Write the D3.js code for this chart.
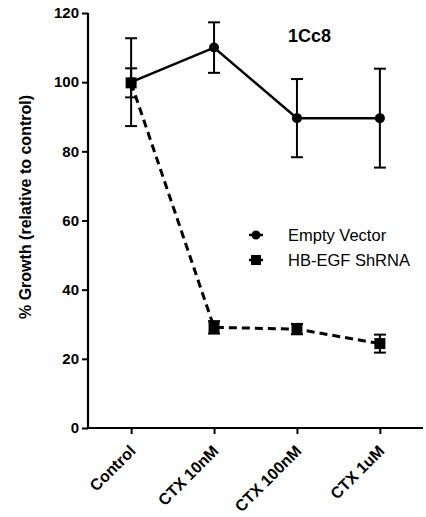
<!DOCTYPE html>
<html>
<head>
<meta charset="utf-8">
<script src="https://cdn.jsdelivr.net/npm/d3@7"></script>
<style>
    body { margin: 0; background: #fff; }
    svg { display: block; font-family: 'Liberation Sans', Arial, sans-serif; }
</style>
</head>
<body>
<svg id="chart" width="426" height="517"></svg>
<script>
const categories = ['Control', 'CTX 10nM', 'CTX 100nM', 'CTX 1uM'];
const emptyVector = [100, 110, 89.6, 89.6];
const emptyVectorErr = [12.7, 7.3, 11.3, 14.3];
const hbEgf = [99.8, 29.1, 28.6, 24.4];
const hbEgfErr = [4.2, 1.8, 1.5, 2.6];
const yTicks = [0, 20, 40, 60, 80, 100, 120];

const svg = d3.select('#chart');
const plot = { left: 88, right: 423, top: 13, bottom: 428 };

const x = d3.scalePoint().domain(categories).range([plot.left, plot.right]).padding(0.52);
const y = d3.scaleLinear().domain([0, 120]).range([plot.bottom, plot.top]);

// axes
const yAxis = d3.axisLeft(y).tickValues(yTicks).tickSize(6).tickPadding(3);
const gy = svg.append('g').attr('transform', `translate(${plot.left},0)`).call(yAxis);
gy.select('.domain').attr('stroke-width', 2.2).attr('d', `M0,${plot.bottom}V${plot.top}`);
gy.selectAll('.tick line').attr('stroke-width', 2);
gy.selectAll('.tick text').attr('font-size', 15).attr('font-weight', 'bold').attr('fill', '#000');

const xAxis = d3.axisBottom(x).tickSize(6);
const gx = svg.append('g').attr('transform', `translate(0,${plot.bottom})`).call(xAxis);
gx.select('.domain').attr('stroke-width', 2.2).attr('d', `M${plot.left},0H${plot.right}`);
gx.selectAll('.tick line').attr('stroke-width', 2);
gx.selectAll('.tick text')
    .attr('font-size', 16).attr('font-weight', 'bold').attr('fill', '#000')
    .attr('text-anchor', 'end')
    .attr('x', 0).attr('y', 0).attr('dy', '0.35em')
    .attr('transform', 'translate(1,20) rotate(-45)');

// y label
svg.append('text')
    .attr('transform', 'translate(31,207) rotate(-90)')
    .attr('text-anchor', 'middle')
    .attr('font-size', 16).attr('font-weight', 'bold')
    .text('% Growth (relative to control)');

// title
svg.append('text').attr('x', 288).attr('y', 42)
    .attr('font-size', 18).attr('font-weight', 'bold').text('1Cc8');

function errorBars(vals, errs) {
    const g = svg.append('g').attr('stroke', '#000').attr('stroke-width', 2);
    vals.forEach((v, i) => {
        const cx = x(categories[i]);
        g.append('line').attr('x1', cx).attr('x2', cx).attr('y1', y(v - errs[i])).attr('y2', y(v + errs[i]));
        [v - errs[i], v + errs[i]].forEach(e => {
            g.append('line').attr('x1', cx - 6).attr('x2', cx + 6).attr('y1', y(e)).attr('y2', y(e));
        });
    });
}

errorBars(emptyVector, emptyVectorErr);
errorBars(hbEgf, hbEgfErr);

const line = d3.line().x((d, i) => x(categories[i])).y(d => y(d));

svg.append('path').attr('d', line(hbEgf)).attr('fill', 'none')
    .attr('stroke', '#000').attr('stroke-width', 3).attr('stroke-dasharray', '8,5');
svg.append('path').attr('d', line(emptyVector)).attr('fill', 'none')
    .attr('stroke', '#000').attr('stroke-width', 2.5);

svg.selectAll('.ev').data(emptyVector).enter().append('circle')
    .attr('cx', (d, i) => x(categories[i])).attr('cy', d => y(d)).attr('r', 5).attr('fill', '#000');
svg.selectAll('.hb').data(hbEgf).enter().append('rect')
    .attr('x', (d, i) => x(categories[i]) - 5.5).attr('y', d => y(d) - 5.5)
    .attr('width', 11).attr('height', 11).attr('fill', '#000');

// legend
const leg = svg.append('g');
leg.append('line').attr('x1', 249).attr('x2', 263).attr('y1', 235).attr('y2', 235).attr('stroke', '#000').attr('stroke-width', 2.5);
leg.append('circle').attr('cx', 256).attr('cy', 235).attr('r', 4.5).attr('fill', '#000');
leg.append('text').attr('x', 288).attr('y', 241).attr('font-size', 16.5).text('Empty Vector');
leg.append('line').attr('x1', 249).attr('x2', 263).attr('y1', 260).attr('y2', 260).attr('stroke', '#000').attr('stroke-width', 2.5);
leg.append('rect').attr('x', 251).attr('y', 255).attr('width', 10).attr('height', 10).attr('fill', '#000');
leg.append('text').attr('x', 288).attr('y', 266).attr('font-size', 16.5).text('HB-EGF ShRNA');
</script>
</body>
</html>
